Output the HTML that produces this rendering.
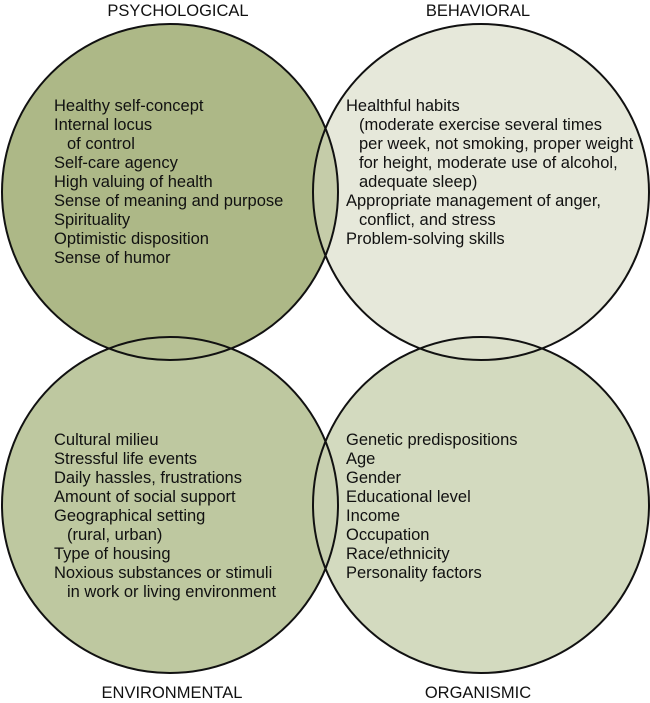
<!DOCTYPE html>
<html><head><meta charset="utf-8"><style>
html,body{margin:0;padding:0;background:#fff;}
svg{display:block;}
text{font-family:"Liberation Sans",Arial,sans-serif;font-size:16.5px;fill:#111;}
</style></head><body>
<svg width="650" height="703" viewBox="0 0 650 703" xmlns="http://www.w3.org/2000/svg">
<defs>
<clipPath id="cTL"><circle cx="170" cy="192" r="168"/></clipPath>
<clipPath id="cTR"><circle cx="481" cy="192" r="168"/></clipPath>
<clipPath id="cBL"><circle cx="170" cy="505" r="168"/></clipPath>
<clipPath id="cBR"><circle cx="481" cy="505" r="168"/></clipPath>
</defs>
<circle cx="170" cy="192" r="168" fill="#adb887"/>
<circle cx="481" cy="192" r="168" fill="#e6e8da"/>
<circle cx="170" cy="505" r="168" fill="#bec8a0"/>
<circle cx="481" cy="505" r="168" fill="#d3dabf"/>
<circle cx="481" cy="192" r="168" fill="#c5cca9" clip-path="url(#cTL)"/>
<circle cx="170" cy="505" r="168" fill="#b6c094" clip-path="url(#cTL)"/>
<circle cx="481" cy="505" r="168" fill="#dde1cc" clip-path="url(#cTR)"/>
<circle cx="481" cy="505" r="168" fill="#c8d0b0" clip-path="url(#cBL)"/>
<g fill="none" stroke="#111" stroke-width="2">
<circle cx="170" cy="192" r="168"/>
<circle cx="481" cy="192" r="168"/>
<circle cx="170" cy="505" r="168"/>
<circle cx="481" cy="505" r="168"/>
</g>
<text x="178" y="16" text-anchor="middle">PSYCHOLOGICAL</text>
<text x="478" y="16" text-anchor="middle">BEHAVIORAL</text>
<text x="172" y="698" text-anchor="middle">ENVIRONMENTAL</text>
<text x="478" y="698" text-anchor="middle">ORGANISMIC</text>
<g>
<text x="54" y="111">Healthy self-concept</text>
<text x="54" y="130">Internal locus</text>
<text x="67" y="149">of control</text>
<text x="54" y="168">Self-care agency</text>
<text x="54" y="187">High valuing of health</text>
<text x="54" y="206">Sense of meaning and purpose</text>
<text x="54" y="225">Spirituality</text>
<text x="54" y="244">Optimistic disposition</text>
<text x="54" y="263">Sense of humor</text>
</g>
<g>
<text x="346" y="111">Healthful habits</text>
<text x="359" y="130">(moderate exercise several times</text>
<text x="359" y="149">per week, not smoking, proper weight</text>
<text x="359" y="168">for height, moderate use of alcohol,</text>
<text x="359" y="187">adequate sleep)</text>
<text x="346" y="206">Appropriate management of anger,</text>
<text x="359" y="225">conflict, and stress</text>
<text x="346" y="244">Problem-solving skills</text>
</g>
<g>
<text x="54" y="445">Cultural milieu</text>
<text x="54" y="464">Stressful life events</text>
<text x="54" y="483">Daily hassles, frustrations</text>
<text x="54" y="502">Amount of social support</text>
<text x="54" y="521">Geographical setting</text>
<text x="67" y="540">(rural, urban)</text>
<text x="54" y="559">Type of housing</text>
<text x="54" y="578">Noxious substances or stimuli</text>
<text x="67" y="597">in work or living environment</text>
</g>
<g>
<text x="346" y="445">Genetic predispositions</text>
<text x="346" y="464">Age</text>
<text x="346" y="483">Gender</text>
<text x="346" y="502">Educational level</text>
<text x="346" y="521">Income</text>
<text x="346" y="540">Occupation</text>
<text x="346" y="559">Race/ethnicity</text>
<text x="346" y="578">Personality factors</text>
</g>
</svg>
</body></html>
